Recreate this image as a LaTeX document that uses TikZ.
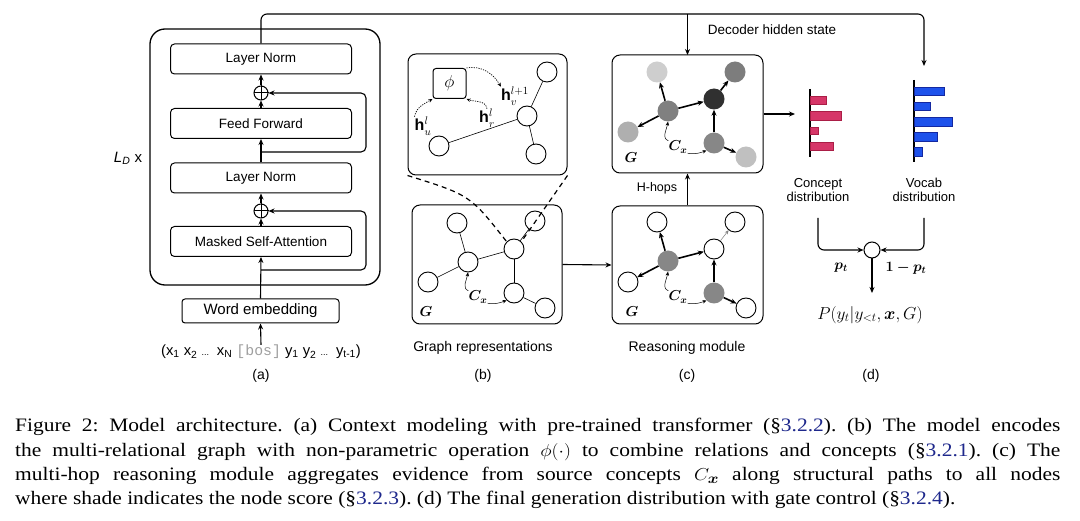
\documentclass[tikz,border=0pt]{standalone}
\usepackage{fontspec}
\setmainfont{Liberation Sans}
\setmonofont{Liberation Mono}
\newfontfamily\capfont{Liberation Serif}
\usepackage{bm}
\usepackage{graphicx}
\usetikzlibrary{arrows.meta,calc}
\definecolor{conceptc}{RGB}{214,54,104}
\definecolor{conceptd}{RGB}{170,30,70}
\definecolor{vocabc}{RGB}{30,82,235}
\definecolor{vocabd}{RGB}{20,40,160}
\definecolor{refblue}{RGB}{30,40,140}
\newcommand{\myref}[1]{\textcolor{refblue}{#1}}
\begin{document}
\begin{tikzpicture}[x=1pt,y=-1pt,
  tbox/.style={draw, line width=1pt, rounded corners=4pt, minimum width=181pt, minimum height=30pt, inner sep=0pt, font=\fontsize{13.5}{16}\selectfont},
  arr/.style={-{Stealth[length=6pt,width=5pt]}, line width=1.1pt},
  plusn/.style={circle, draw, line width=1pt, minimum size=14pt, inner sep=0pt},
  panel/.style={draw, line width=1pt, rounded corners=8pt, inner sep=0pt},
  gnode/.style={circle, draw, line width=0.9pt, minimum size=20pt, inner sep=0pt, fill=white},
  snode/.style={circle, minimum size=21pt, inner sep=0pt},
  gedge/.style={line width=0.6pt},
  redge/.style={-{Stealth[length=6pt,width=5pt]}, line width=1.6pt},
  thinarr/.style={-{Stealth[length=4pt,width=3.5pt]}, line width=0.5pt},
  dotarr/.style={-{Stealth[length=4pt,width=3.5pt]}, line width=0.7pt, dash pattern=on 1.2pt off 1.2pt},
  zoomline/.style={line width=1.2pt, dash pattern=on 5pt off 4pt},
  lbl/.style={font=\fontsize{14}{16}\selectfont, inner sep=0pt},
  small/.style={font=\fontsize{13}{15}\selectfont, inner sep=0pt, align=center},
  mathl/.style={font=\fontsize{14}{16}\selectfont, inner sep=0pt},
  hlbl/.style={font=\fontsize{16}{18}\selectfont, inner sep=0pt}
]
\useasboundingbox (0,0) rectangle (1080,521);
\fill[white] (0,0) rectangle (1080,521);

% ---------------- (a) transformer ----------------
\node[draw, line width=1.3pt, rounded corners=15pt, minimum width=230pt, minimum height=256pt] (outer) at (265,157) {};
\node[tbox] (ln1) at (261,59) {Layer Norm};
\node[plusn] (p1) at (261,93) {};
\draw[line width=1pt] (p1.north) -- (p1.south) (p1.west) -- (p1.east);
\node[tbox] (ff) at (261,123.5) {Feed Forward};
\node[tbox] (ln2) at (261,178) {Layer Norm};
\node[plusn] (p2) at (261,211) {};
\draw[line width=1pt] (p2.north) -- (p2.south) (p2.west) -- (p2.east);
\node[tbox] (msa) at (261,241.5) {Masked Self-Attention};
\node[draw, line width=1pt, rounded corners=3pt, minimum width=157pt, minimum height=24pt, inner sep=0pt, font=\fontsize{15}{17}\selectfont] (we) at (260.5,311) {Word embedding};
\node[font=\fontsize{14.8}{17}\selectfont, inner sep=0pt] (inp) at (261,352) {(x\textsubscript{1} x\textsubscript{2} {\fontsize{9}{10}\selectfont...}\, x\textsubscript{N} {\ttfamily\color{gray!75}[bos]} y\textsubscript{1} y\textsubscript{2} {\fontsize{9}{10}\selectfont...}\, y\textsubscript{t-1})};
\node[lbl] (la) at (261,376) {(a)};
\node[font=\fontsize{15}{17}\selectfont, inner sep=0pt] (ld) at (128,158) {\textit{L}\textsubscript{\textit{D}} x};

\draw[arr] (inp.north) -- (we.south);
\draw[arr] (we.north) -- (msa.south);
\draw[arr] (msa.north) -- (p2.south);
\draw[arr] (p2.north) -- (ln2.south);
\draw[arr] (ln2.north) -- (ff.south);
\draw[arr] (ff.north) -- (p1.south);
\draw[arr] (p1.north) -- (ln1.south);
\coordinate (r2s) at (261,270);
\coordinate (r1s) at (261,152);
\draw[arr, rounded corners=5pt] (r2s) -- (366,270) -- (366,211) -- (p2.east);
\draw[arr, rounded corners=5pt] (r1s) -- (366,152) -- (366,93) -- (p1.east);

% decoder hidden state line
\coordinate (ct_in) at (687.5,55);
\coordinate (voc_in) at (924,66);
\draw[arr, rounded corners=6pt] (ln1.north) -- (261,14) -- (924,14) -- (voc_in);
\draw[arr] (687.5,14) -- (ct_in);
\node[font=\fontsize{13.5}{16}\selectfont, inner sep=0pt] (dhs) at (772,30) {Decoder hidden state};

% ---------------- (b) graph representations ----------------
\node[panel, minimum width=159pt, minimum height=121pt] (bt) at (487.5,114.5) {};
\node[draw, line width=1pt, rounded corners=3pt, minimum width=33pt, minimum height=30pt, inner sep=0pt, font=\fontsize{19}{21}\selectfont] (phi) at (449.5,83.5) {$\phi$};
\node[gnode] (tv) at (527,116) {};
\node[gnode] (ttr) at (547,72) {};
\node[gnode] (tbr) at (536,154) {};
\node[gnode] (tbl) at (439,146) {};
\draw[gedge] (tv) -- (ttr);
\draw[gedge] (tv) -- (tbr);
\draw[gedge] (tv) -- (tbl);
\node[hlbl] (hu) at (423,126) {$\mathbf{h}_u^l$};
\node[hlbl] (hr) at (487,118) {$\mathbf{h}_r^l$};
\node[hlbl] (hv) at (515,96) {$\mathbf{h}_v^{l+1}$};
\draw[dotarr] (hu.north west) to[out=80, in=210] (phi.south west);
\draw[dotarr] (hr.north) to[out=100, in=-20] (phi.south east);
\draw[dotarr] (phi.north east) to[out=10, in=120] (hv.north west);

\node[panel, minimum width=150pt, minimum height=119pt] (bb) at (487,264.5) {};
\node[gnode] (b1) at (457,223) {};
\node[gnode] (b2) at (468,262) {};
\node[gnode] (b3) at (428,282) {};
\node[gnode] (b4) at (535,221) {};
\node[gnode] (b5) at (514,249) {};
\node[gnode] (b6) at (514,293) {};
\node[gnode] (b7) at (545,308) {};
\draw[gedge] (b1) -- (b2);
\draw[gedge] (b2) -- (b3);
\draw[gedge] (b2) -- (b5);
\draw[gedge] (b5) -- (b6);
\draw[gedge] (b6) -- (b7);
\draw[gedge] (b5) -- (b4);
\node[mathl] (bcx) at (478,297) {$\bm{C_x}$};
\draw[thinarr] (bcx.north west) to[out=160, in=-100] (b2.south);
\draw[thinarr] (bcx.south east) to[out=-10, in=200] (b6.south west);
\node[font=\fontsize{15}{17}\selectfont, inner sep=0pt] (bg) at (426,312) {$\bm{G}$};
\draw[zoomline] (bt.south west) .. controls (470,195) .. (b5.north west);
\draw[zoomline] (bt.south east) -- (b5.north east);
\node[lbl] (gr) at (483,348) {Graph representations};
\node[lbl] (lb) at (483,376) {(b)};

% ---------------- (c) reasoning module ----------------
\node[panel, minimum width=151pt, minimum height=118pt] (ct) at (687.5,114) {};
\node[snode, fill={rgb,255:red,206;green,206;blue,206}] (c1) at (657,72) {};
\node[snode, fill={rgb,255:red,128;green,128;blue,128}] (c2) at (668,111) {};
\node[snode, fill={rgb,255:red,175;green,175;blue,175}] (c3) at (628,132) {};
\node[snode, fill={rgb,255:red,125;green,125;blue,125}] (c4) at (735,72) {};
\node[snode, fill={rgb,255:red,48;green,48;blue,48}] (c5) at (714,99) {};
\node[snode, fill={rgb,255:red,135;green,135;blue,135}] (c6) at (714,143) {};
\node[snode, fill={rgb,255:red,192;green,192;blue,192}] (c7) at (746,157) {};
\draw[redge] (c2) -- (c1);
\draw[redge] (c2) -- (c3);
\draw[redge] (c2) -- (c5);
\draw[redge] (c6) -- (c5);
\draw[redge] (c6) -- (c7);
\draw[redge] (c5) -- (c4);
\node[mathl] (ccx) at (678,147) {$\bm{C_x}$};
\draw[thinarr] (ccx.north west) to[out=160, in=-100] (c2.south);
\draw[thinarr] (ccx.south east) to[out=-10, in=200] (c6.south west);
\node[font=\fontsize{15}{17}\selectfont, inner sep=0pt] (cg) at (631,158) {$\bm{G}$};

\node[panel, minimum width=151pt, minimum height=118pt] (cb) at (687.5,265) {};
\node[gnode] (d1) at (657,222) {};
\node[snode, fill={rgb,255:red,135;green,135;blue,135}] (d2) at (668,261) {};
\node[gnode] (d3) at (628,282) {};
\node[gnode] (d4) at (735,222) {};
\node[gnode] (d5) at (714,249) {};
\node[snode, fill={rgb,255:red,135;green,135;blue,135}] (d6) at (714,293) {};
\node[gnode] (d7) at (746,308) {};
\draw[redge] (d2) -- (d1);
\draw[redge] (d2) -- (d3);
\draw[redge] (d2) -- (d5);
\draw[redge] (d6) -- (d5);
\draw[redge] (d6) -- (d7);
\draw[thinarr, gray] (d5) -- (d4);
\node[mathl] (dcx) at (678,297) {$\bm{C_x}$};
\draw[thinarr] (dcx.north west) to[out=160, in=-100] (d2.south);
\draw[thinarr] (dcx.south east) to[out=-10, in=200] (d6.south west);
\node[font=\fontsize{15}{17}\selectfont, inner sep=0pt] (dg) at (632,312) {$\bm{G}$};
\node[lbl] (rm) at (687,348) {Reasoning module};
\node[lbl] (lc) at (687,376) {(c)};

\draw[arr] (bb.east) -- (cb.west);
\draw[arr] (cb.north) -- (ct.south);
\node[font=\fontsize{12.5}{14}\selectfont, inner sep=0pt] (hh) at (657,188) {H-hops};

% ---------------- (d) distributions ----------------
\coordinate (cd_in) at (795,114);
\draw[arr] (ct.east) -- (cd_in);
\draw[line width=1.1pt] (810,89) -- (810,157);
\foreach \ya/\yb/\xe in {96/104/826, 111/120/841, 127/134/818, 142/150/833}
  \draw[fill=conceptc, draw=conceptd, line width=0.4pt] (810.5,\ya) rectangle (\xe,\yb);
\draw[line width=1.1pt] (914,80) -- (914,162);
\foreach \ya/\yb/\xe in {87/95/944, 102/110/930, 117/126/952, 132/141/937, 147/156/922}
  \draw[fill=vocabc, draw=vocabd, line width=0.4pt] (914.5,\ya) rectangle (\xe,\yb);
\node[small] (cdt) at (818,190) {Concept\\[-1pt]distribution};
\node[small] (vdt) at (924,190) {Vocab\\[-1pt]distribution};
\node[circle, draw, line width=1pt, minimum size=16pt, inner sep=0pt] (gate) at (872,250) {};
\coordinate (gl) at (818,218);
\coordinate (gr2) at (924,218);
\coordinate (gout) at (872,293);
\draw[arr, rounded corners=6pt] (gl) |- (gate.west);
\draw[arr, rounded corners=6pt] (gr2) |- (gate.east);
\draw[arr] (gate.south) -- (gout);
\node[mathl] (pt) at (841,268) {$\bm{p_t}$};
\node[mathl] (qt) at (906,268) {$\bm{1-p_t}$};
\node[font=\fontsize{17}{19}\selectfont, inner sep=0pt] (py) at (870,315) {$P(y_t|y_{<t},\bm{x},G)$};
\node[lbl] (ldd) at (871,376) {(d)};

% ---------------- caption ----------------
\node[anchor=base west, inner sep=0pt] (cap) at (15,432) {\scalebox{1.13}[1]{\parbox[t]{925pt}{\capfont\fontsize{19}{24.3}\selectfont\frenchspacing
Figure 2: Model architecture. (a) Context modeling with pre-trained transformer (\S\myref{3.2.2}). (b) The model encodes\linebreak
the multi-relational graph with non-parametric operation $\phi(\cdot)$ to combine relations and concepts (\S\myref{3.2.1}). (c) The\linebreak
multi-hop reasoning module aggregates evidence from source concepts $C_{\bm{x}}$ along structural paths to all nodes\linebreak
where shade indicates the node score (\S\myref{3.2.3}). (d) The final generation distribution with gate control (\S\myref{3.2.4}).}}};
\end{tikzpicture}
\end{document}
